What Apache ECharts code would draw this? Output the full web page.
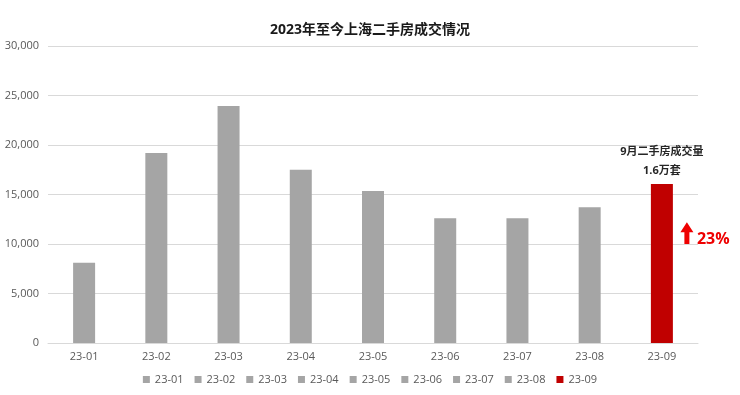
<!DOCTYPE html>
<html><head><meta charset="utf-8">
<script src="https://cdn.jsdelivr.net/npm/echarts@6/dist/echarts.min.js"></script>
<style>html,body{margin:0;padding:0;background:#fff}#c{width:740px;height:395px}</style>
</head><body><div id="c"></div>
<script>
const categories = ['23-01','23-02','23-03','23-04','23-05','23-06','23-07','23-08','23-09'];
const values = [8100, 19200, 23950, 17500, 15350, 12600, 12600, 13700, 16050];
const barColors = ['#a5a5a5','#a5a5a5','#a5a5a5','#a5a5a5','#a5a5a5','#a5a5a5','#a5a5a5','#a5a5a5','#c00000'];
const yTicks = {min: 0, max: 30000, interval: 5000};
const noteLine1 = '9月二手房成交量';
const noteLine2 = '1.6万套';
const growthText = '23%';

const FONT = '"Open Sans","Noto Sans CJK SC",sans-serif';
const chart = echarts.init(document.getElementById('c'));
const series = categories.map((name, i) => {
  const data = categories.map((c, j) => j === i ? values[i] : '-');
  const s = {
    name, type: 'bar', stack: 'all', barWidth: 22, data,
    itemStyle: {color: barColors[i]}
  };
  if (i === categories.length - 1) {
    s.label = {
      show: true, position: 'top', distance: 4,
      formatter: '{a|' + noteLine1 + '}\n{b|' + noteLine2 + '}',
      rich: {
        a: {fontFamily: FONT, fontSize: 11, fontWeight: 'bold', color: '#262626', lineHeight: 19},
        b: {fontFamily: FONT, fontSize: 11, fontWeight: 'bold', color: '#262626', lineHeight: 19}
      }
    };
  }
  return s;
});
chart.setOption({
  animation: false,
  title: {text: '2023年至今上海二手房成交情况', left: 'center', top: 18,
    textStyle: {fontFamily: FONT, fontSize: 14, fontWeight: 'bold', color: '#1a1a1a'}},
  grid: {left: 48, right: 42, top: 46, bottom: 52},
  legend: {data: categories, bottom: 5, icon: 'rect', itemWidth: 7, itemHeight: 7, itemGap: 11,
    textStyle: {fontFamily: FONT, fontSize: 11, color: '#595959'}},
  xAxis: {type: 'category', data: categories,
    axisLine: {lineStyle: {color: '#d9d9d9'}}, axisTick: {show: false},
    axisLabel: {fontFamily: FONT, fontSize: 11, color: '#595959', margin: 8}},
  yAxis: {type: 'value', min: yTicks.min, max: yTicks.max, interval: yTicks.interval,
    axisLine: {show: false}, axisTick: {show: false},
    splitLine: {lineStyle: {color: '#d9d9d9'}},
    axisLabel: {fontFamily: FONT, fontSize: 11, color: '#595959', margin: 9,
      formatter: v => v.toLocaleString('en-US')}},
  series
});
// growth annotation placed relative to last bar via scales
const last = categories.length - 1;
const base = chart.convertToPixel({gridIndex: 0}, [last, 10000]);
const topP = chart.convertToPixel({gridIndex: 0}, [last, 12200]);
const ax = base[0] + 25;
chart.setOption({graphic: [
  {type: 'polygon', shape: {points: [
    [ax - 2.5, base[1]], [ax + 2.5, base[1]], [ax + 2.5, topP[1] + 10], [ax + 6.5, topP[1] + 10],
    [ax, topP[1]], [ax - 6.5, topP[1] + 10], [ax - 2.5, topP[1] + 10]
  ]}, style: {fill: '#ee0000'}},
  {type: 'text', x: ax + 10, y: (base[1] + topP[1]) / 2 + 6, style: {text: growthText,
    font: 'bold 16px ' + FONT, fill: '#ee0000', textVerticalAlign: 'middle'}}
]});
</script></body></html>
